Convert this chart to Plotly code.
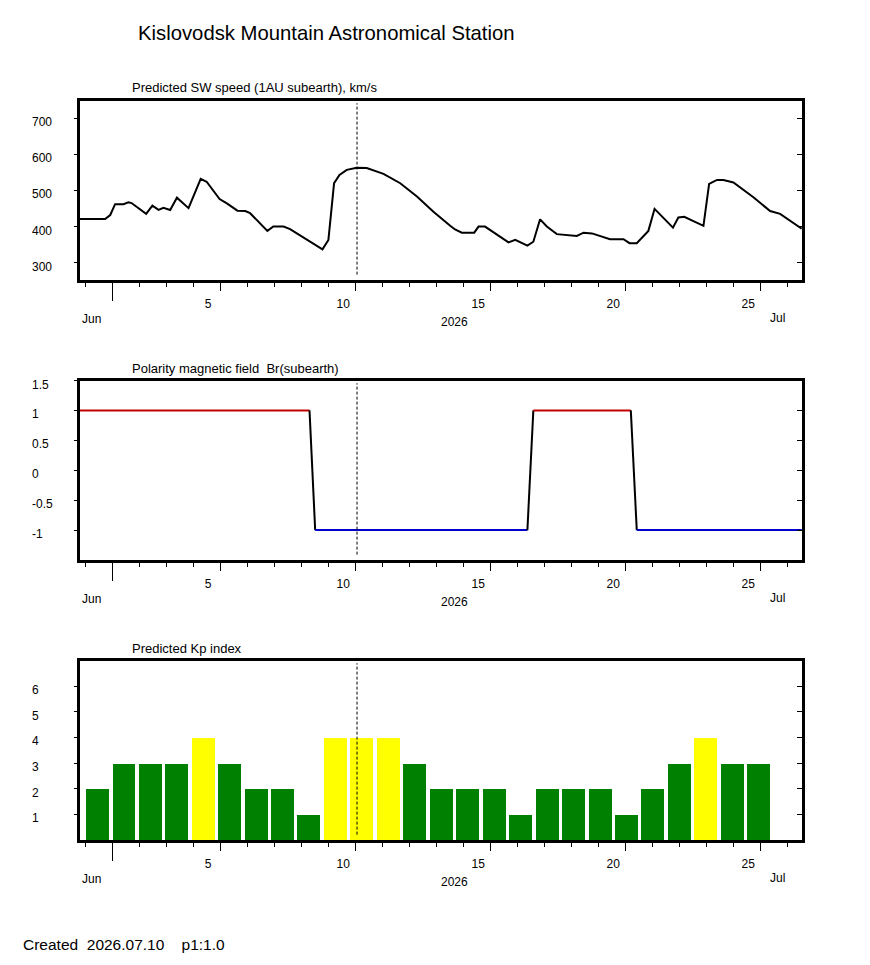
import plotly.graph_objects as go

# ---- datos ----
# velocidad del viento solar (dias desde el inicio del eje, km/s)
sw_day = [-0.19, 0.74, 0.93, 1.11, 1.42, 1.60, 1.72, 2.26, 2.49, 2.72, 2.90, 3.15, 3.40, 3.83,
          4.28, 4.50, 4.98, 5.25, 5.64, 5.93, 6.11, 6.75, 6.97, 7.35, 7.59, 8.21, 8.79, 9.01,
          9.22, 9.42, 9.69, 10.06, 10.43, 11.05, 11.67, 12.29, 12.90, 13.52, 13.70, 13.95,
          14.41, 14.57, 14.81, 15.68, 15.93, 16.38, 16.60, 16.85, 17.10, 17.47, 18.21, 18.46,
          18.77, 19.44, 19.94, 20.16, 20.43, 20.86, 21.09, 21.77, 21.97, 22.19, 22.90, 23.11,
          23.40, 23.64, 24.01, 24.75, 25.37, 25.74, 26.42, 26.54]
sw_speed = [421, 421, 432, 462, 462, 467, 465, 435, 458, 446, 452, 446, 480, 451,
            532, 524, 476, 464, 444, 443, 437, 388, 400, 400, 393, 363, 337, 363,
            520, 543, 557, 563, 562, 546, 520, 483, 441, 402, 392, 383,
            383, 400, 400, 356, 363, 347, 358, 420, 400, 379, 374, 383,
            381, 365, 365, 354, 354, 388, 449, 397, 425, 427, 402, 518,
            529, 529, 522, 481, 443, 435, 400, 394]

# polaridad del campo magnetico Br
pol_day = [-0.19, 8.31, 8.52, 16.38, 16.60, 20.21, 20.43, 26.54]
pol_val = [1, 1, -1, -1, 1, 1, -1, -1]

# indice Kp previsto
kp_day = [0.46, 1.44, 2.41, 3.39, 4.37, 5.35, 6.33, 7.31, 8.29, 9.27, 10.25, 11.23, 12.21,
          13.19, 14.17, 15.15, 16.13, 17.11, 18.09, 19.07, 20.05, 21.03, 22.01, 22.99, 23.97, 24.95]
kp_val = [2, 3, 3, 3, 4, 3, 2, 2, 1, 4, 4, 4, 3, 2, 2, 2, 1, 2, 2, 2, 1, 2, 3, 4, 3, 3]

x_ticks = [5, 10, 15, 20, 25]
x_ticktext = ['5', '10', '15', '20', '25']
month_tick = [1]
today = 10.07

sw_ticks = [300, 400, 500, 600, 700]
pol_ticks = [1.5, 1, 0.5, 0, -0.5, -1]
pol_ticktext = ['1.5', '1', '0.5', '0', '-0.5', '-1']
kp_ticks = [1, 2, 3, 4, 5, 6]

# la pagina html deja 8 px de margen en el body: se descuenta
OFF = 8
W, H = 870 - 2 * OFF, 965 - 2 * OFF
FONT = 'Arial, Liberation Sans, sans-serif'


def px_x(x):
    return (x - OFF) / W


def px_y(y):
    return 1 - (y - OFF) / H


# paneles: (titulo, borde superior px, borde inferior px, rango y)
paneles = [('Predicted SW speed (1AU subearth), km/s', 100.5, 280, [252, 749], sw_ticks, [str(v) for v in sw_ticks]),
           ('Polarity magnetic field  Br(subearth)', 380.5, 560, [-1.5, 1.5], pol_ticks, pol_ticktext),
           ('Predicted Kp index', 660.5, 840, [0, 7], kp_ticks, [str(v) for v in kp_ticks])]

x_dom = [px_x(80), px_x(802)]
x_range = [-0.19, 26.55]

fig = go.Figure()

# velocidad
fig.add_trace(go.Scatter(x=sw_day, y=sw_speed, mode='lines', line=dict(color='black', width=2),
                         xaxis='x', yaxis='y', showlegend=False))

# polaridad: rojo en +1, azul en -1, negro en los saltos
for i in range(len(pol_day) - 1):
    a, b = pol_val[i], pol_val[i + 1]
    if a == b:
        col = '#C00000' if a > 0 else '#0000C8'
    else:
        col = 'black'
    fig.add_trace(go.Scatter(x=pol_day[i:i + 2], y=pol_val[i:i + 2], mode='lines',
                             line=dict(color=col, width=2), xaxis='x2', yaxis='y2', showlegend=False))

# barras Kp
kp_colores = ['#FFFF00' if v >= 4 else '#008000' for v in kp_val]
fig.add_trace(go.Bar(x=kp_day, y=kp_val, width=0.85, marker=dict(color=kp_colores, line=dict(width=0)),
                     xaxis='x3', yaxis='y3', showlegend=False))

layout = dict(width=W, height=H, margin=dict(l=0, r=0, t=0, b=0),
              paper_bgcolor='white', plot_bgcolor='white',
              font=dict(family=FONT, color='black', size=12), bargap=0)

anotaciones = []
shapes = []
for k, (titulo, top, bot, yr, yt, ytt) in enumerate(paneles):
    n = '' if k == 0 else str(k + 1)
    m = str(k + 4)
    ydom = [px_y(bot), px_y(top)]
    layout['xaxis' + n] = dict(domain=x_dom, range=x_range, anchor='y' + n,
                               showline=True, linewidth=3, linecolor='black', mirror=True,
                               ticks='outside', tickvals=x_ticks, ticktext=x_ticktext,
                               ticklen=8, tickwidth=1, tickcolor='black',
                               minor=dict(dtick=1, tick0=0, ticks='outside', ticklen=4,
                                          tickwidth=1, tickcolor='black', showgrid=False),
                               showgrid=False, zeroline=False, fixedrange=True,
                               ticklabelshift=-12, ticklabelstandoff=3,
                               tickfont=dict(size=12, family=FONT))
    layout['yaxis' + n] = dict(domain=ydom, range=yr, anchor='x' + n,
                               showline=True, linewidth=3, linecolor='black', mirror=True,
                               ticks='outside', tickvals=yt, ticklen=3, tickwidth=1, tickcolor='black',
                               showticklabels=False, showgrid=False, zeroline=False)
    # eje superpuesto: marca larga del mes y marcas interiores del lado derecho
    layout['xaxis' + m] = dict(domain=x_dom, range=x_range, anchor='y' + n,
                               overlaying='x' + n, side='bottom', showline=False,
                               ticks='outside', tickvals=month_tick, ticklen=20, tickwidth=1,
                               tickcolor='black', showticklabels=False,
                               showgrid=False, zeroline=False)
    layout['yaxis' + m] = dict(domain=ydom, range=yr, anchor='x' + n,
                               overlaying='y' + n, side='right', showline=False,
                               ticks='inside', tickvals=[v for v in yt if v < yr[1]],
                               ticklen=5, tickwidth=1, tickcolor='black',
                               showticklabels=False, showgrid=False, zeroline=False)
    # traza vacia para que se dibujen los ejes superpuestos
    fig.add_trace(go.Scatter(x=[], y=[], xaxis='x' + m, yaxis='y' + m, showlegend=False,
                             hoverinfo='skip'))
    # etiquetas del eje y alineadas a la izquierda
    for v, t in zip(yt, ytt):
        anotaciones.append(dict(x=px_x(30), xref='paper', xanchor='left', y=v, yref='y' + n,
                                yanchor='middle', yshift=-4, text=t, showarrow=False,
                                font=dict(size=12, family=FONT)))
    # titulo del panel
    anotaciones.append(dict(x=px_x(130), xref='paper', xanchor='left', y=px_y(top - 12.5),
                            yref='paper', yanchor='middle', text=titulo, showarrow=False,
                            font=dict(size=13, family=FONT)))
    # mes y año bajo el eje
    anotaciones.append(dict(x=px_x(80), xref='paper', xanchor='left', y=px_y(bot + 39),
                            yref='paper', yanchor='middle', text='Jun', showarrow=False,
                            font=dict(size=12, family=FONT)))
    anotaciones.append(dict(x=px_x(454), xref='paper', xanchor='center', y=px_y(bot + 42),
                            yref='paper', yanchor='middle', text='2026', showarrow=False,
                            font=dict(size=12, family=FONT)))
    anotaciones.append(dict(x=px_x(777), xref='paper', xanchor='center', y=px_y(bot + 38),
                            yref='paper', yanchor='middle', text='Jul', showarrow=False,
                            font=dict(size=12, family=FONT)))
    # linea del dia actual
    shapes.append(dict(type='line', xref='x' + n, yref='y' + n + ' domain', x0=today, x1=today,
                       y0=0.03, y1=0.985, line=dict(color='black', width=1, dash='3px,2px')))

anotaciones.append(dict(x=px_x(136), xref='paper', xanchor='left', y=px_y(32.5), yref='paper',
                        yanchor='middle', text='Kislovodsk Mountain Astronomical Station',
                        showarrow=False, font=dict(size=20.3, family=FONT)))
anotaciones.append(dict(x=px_x(21), xref='paper', xanchor='left', y=px_y(944), yref='paper',
                        yanchor='middle', text='Created\u00a0\u00a02026.07.10\u00a0\u00a0\u00a0\u00a0p1:1.0',
                        showarrow=False, font=dict(size=15.5, family=FONT)))

layout['annotations'] = anotaciones
layout['shapes'] = shapes
fig.update_layout(**layout)

fig.write_html("out.html")
